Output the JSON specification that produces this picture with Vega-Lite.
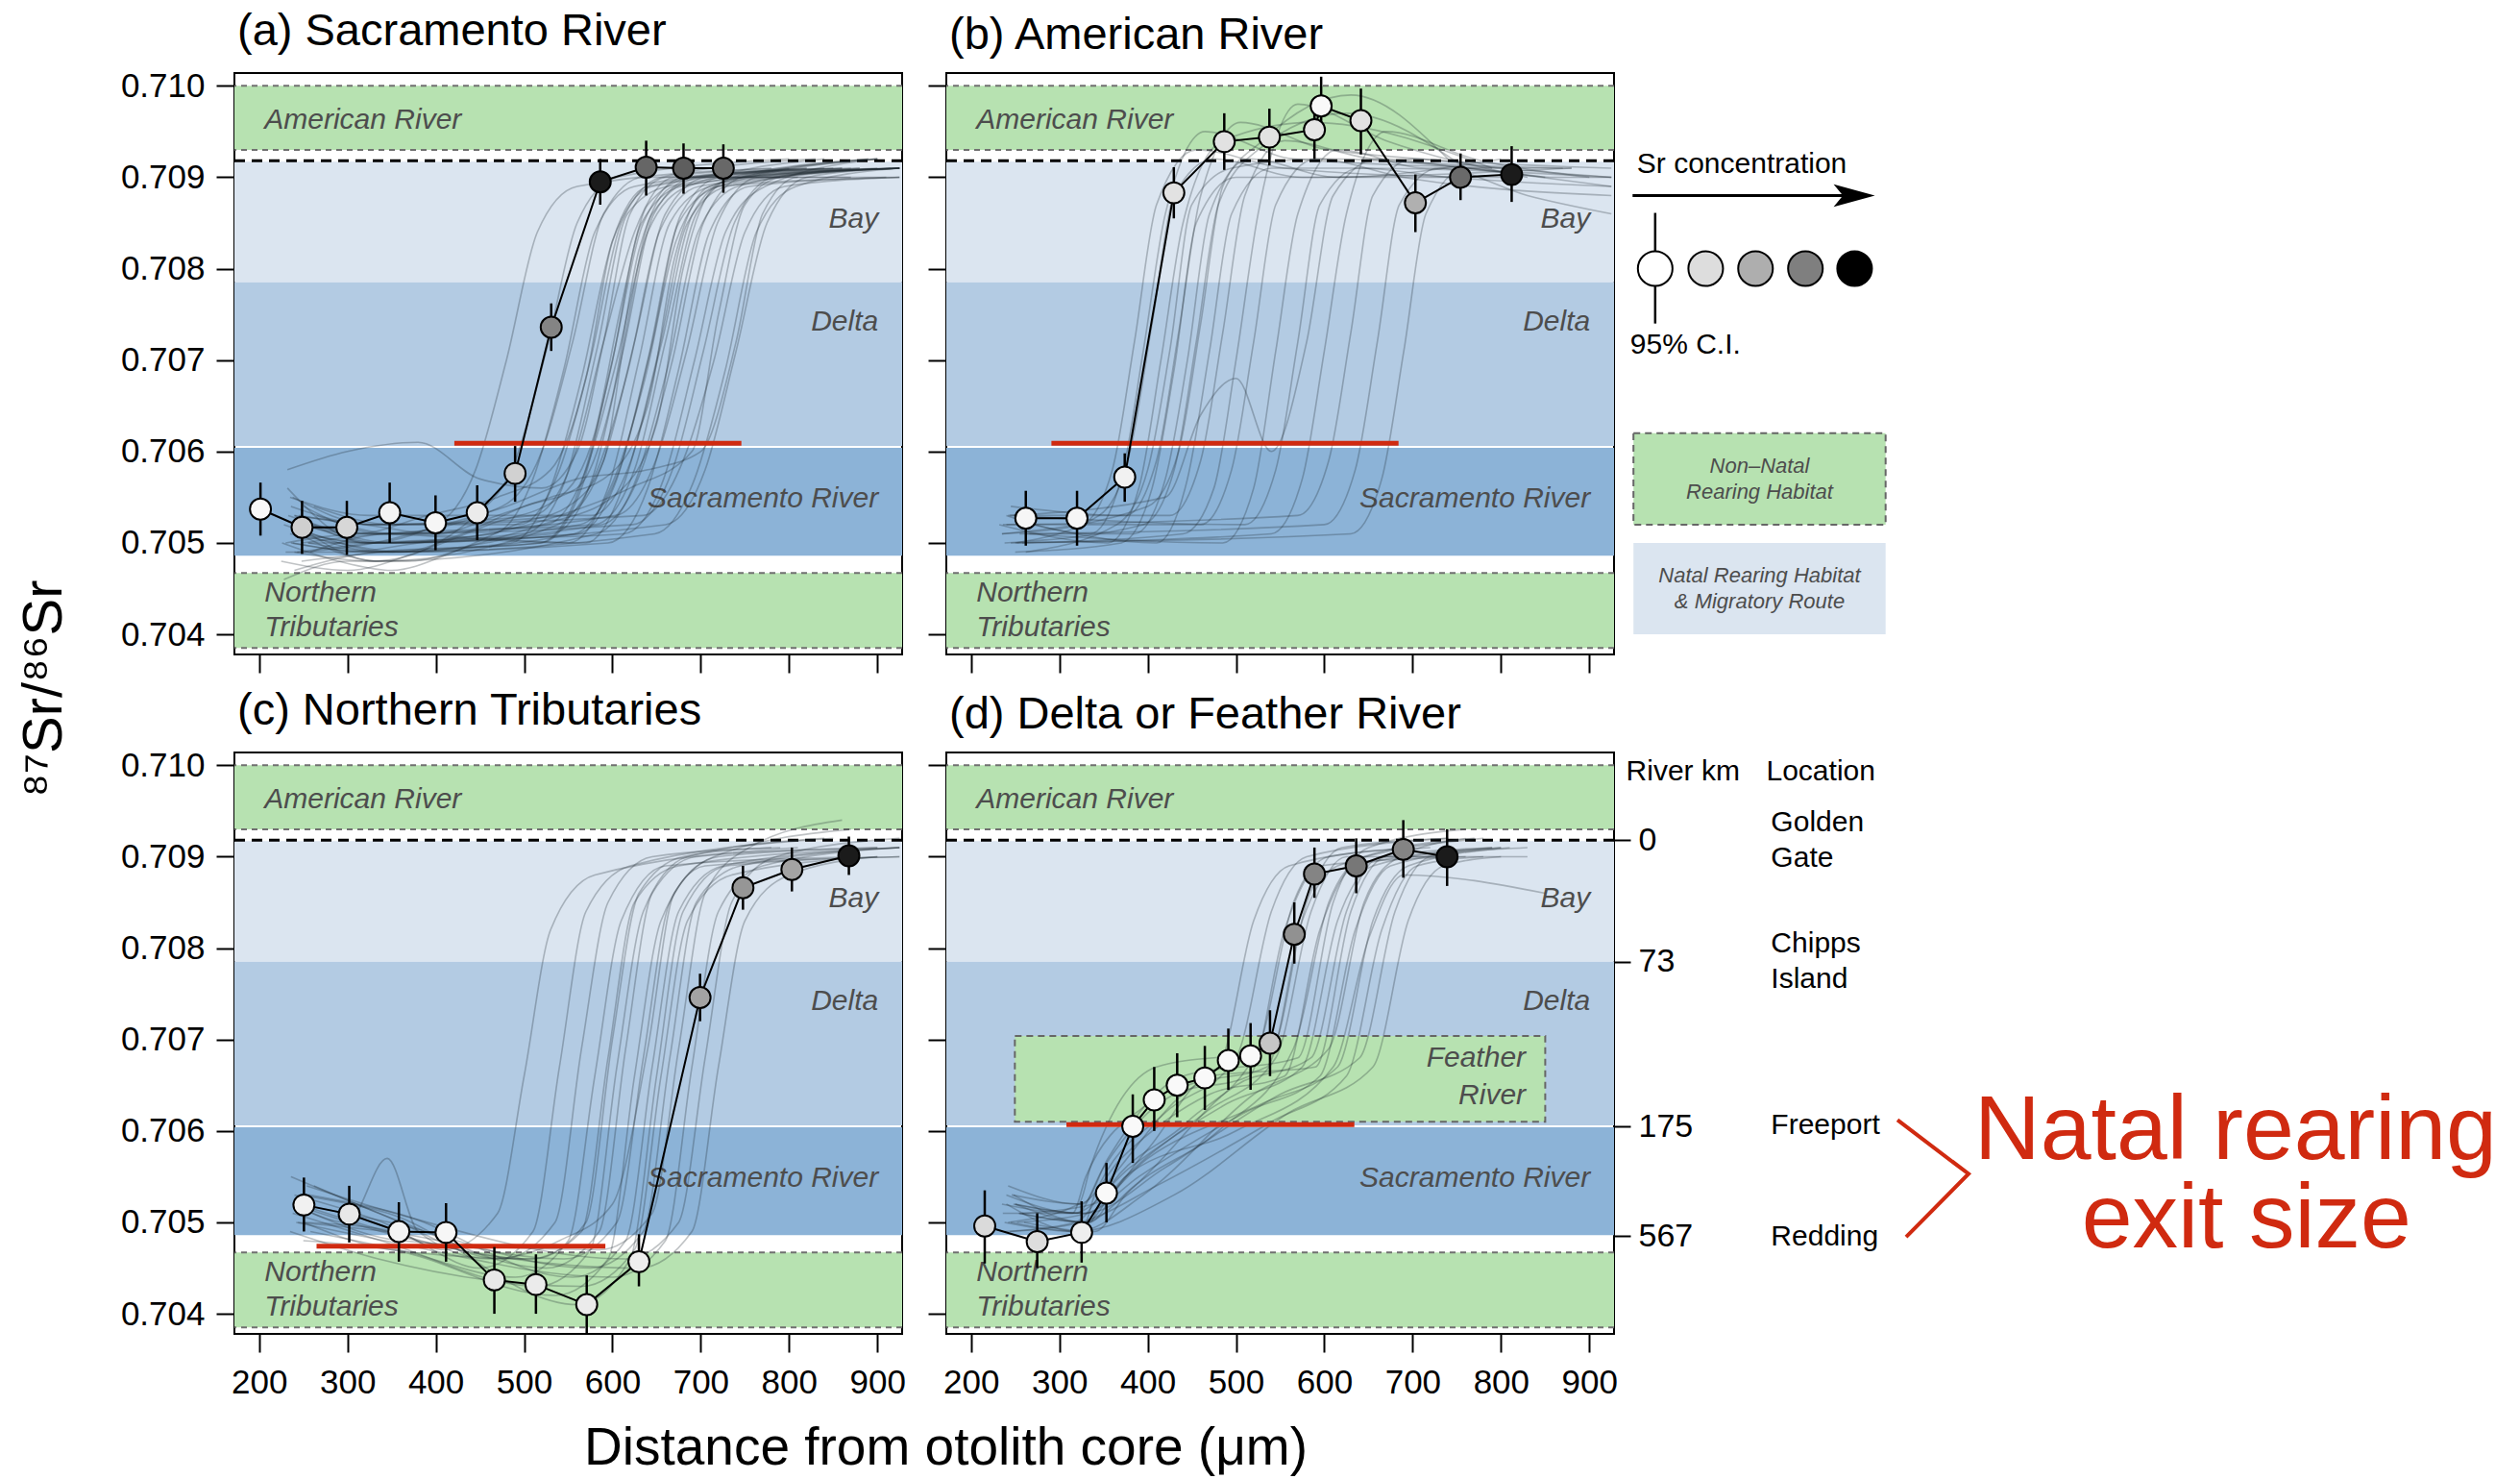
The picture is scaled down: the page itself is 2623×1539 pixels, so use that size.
{
"$schema": "https://vega.github.io/schema/vega-lite/v6.json",
"padding": {"left": 16, "top": 8, "right": 8, "bottom": 2},
"background": "white",
"config": {
  "font": "Liberation Sans",
  "view": {"stroke": "#000", "strokeWidth": 2},
  "axis": {"domain": false, "grid": false, "tickColor": "#000", "tickWidth": 2, "tickSize": 19, "labelFontSize": 35, "labelColor": "#000", "titleColor": "#000", "titleFontWeight": "normal", "labelFont": "Liberation Sans", "titleFont": "Liberation Sans"},
  "title": {"anchor": "start", "frame": "group", "fontSize": 47, "fontWeight": "normal", "offset": 15, "baseline": "alphabetic", "color": "#000", "font": "Liberation Sans", "dx": 3}
},
"datasets": {
  "bands": [
    {"zone": "green", "y": 0.7093, "y2": 0.71},
    {"zone": "bay", "y": 0.70785, "y2": 0.70917},
    {"zone": "delta", "y": 0.70606, "y2": 0.70785},
    {"zone": "sac", "y": 0.70486, "y2": 0.70604},
    {"zone": "green", "y": 0.70385, "y2": 0.70467}
  ],
  "dash": [{"y": 0.71}, {"y": 0.7093}, {"y": 0.70467}, {"y": 0.70385}],
  "bay0": [{"y": 0.70918}],
  "labL": [
    {"txt": "American River", "x": 206, "y": 0.70962},
    {"txt": "Northern", "x": 206, "y": 0.70445},
    {"txt": "Tributaries", "x": 206, "y": 0.70407}
  ],
  "labR": [
    {"txt": "Bay", "x": 901, "y": 0.70854},
    {"txt": "Delta", "x": 901, "y": 0.70742},
    {"txt": "Sacramento River", "x": 901, "y": 0.70548}
  ],
  "red": [
    {"p": "a", "x": 421, "x2": 746, "y": 0.70609},
    {"p": "b", "x": 291, "x2": 684, "y": 0.70609},
    {"p": "c", "x": 265, "x2": 592, "y": 0.70474},
    {"p": "d", "x": 308, "x2": 634, "y": 0.70607}
  ],
  "means": [
    {"p":"a","x":201.5,"y":0.70537,"lo":0.70508,"hi":0.70566,"c":0.02},
    {"p":"a","x":248.6,"y":0.70517,"lo":0.70488,"hi":0.70546,"c":0.17},
    {"p":"a","x":299.3,"y":0.70517,"lo":0.70487,"hi":0.70546,"c":0.14},
    {"p":"a","x":347.8,"y":0.70533,"lo":0.705,"hi":0.70566,"c":0.04},
    {"p":"a","x":399.7,"y":0.70522,"lo":0.70492,"hi":0.70552,"c":0.03},
    {"p":"a","x":446.9,"y":0.70533,"lo":0.70503,"hi":0.70563,"c":0.07},
    {"p":"a","x":489.8,"y":0.70576,"lo":0.70545,"hi":0.70606,"c":0.16},
    {"p":"a","x":530.7,"y":0.70736,"lo":0.7071,"hi":0.70762,"c":0.45},
    {"p":"a","x":586.2,"y":0.70895,"lo":0.7087,"hi":0.7092,"c":0.9},
    {"p":"a","x":638.2,"y":0.70911,"lo":0.7088,"hi":0.7094,"c":0.57},
    {"p":"a","x":680.5,"y":0.7091,"lo":0.70882,"hi":0.70937,"c":0.6},
    {"p":"a","x":725.6,"y":0.7091,"lo":0.70883,"hi":0.70936,"c":0.56},
    {"p":"b","x":262,"y":0.70527,"lo":0.70497,"hi":0.70557,"c":0.03},
    {"p":"b","x":320,"y":0.70527,"lo":0.70497,"hi":0.70557,"c":0.03},
    {"p":"b","x":374,"y":0.70572,"lo":0.70545,"hi":0.70598,"c":0.05},
    {"p":"b","x":429.6,"y":0.70883,"lo":0.70855,"hi":0.70911,"c":0.1},
    {"p":"b","x":486.7,"y":0.70939,"lo":0.70908,"hi":0.7097,"c":0.1},
    {"p":"b","x":537.8,"y":0.70944,"lo":0.70913,"hi":0.70975,"c":0.1},
    {"p":"b","x":588.8,"y":0.70952,"lo":0.7092,"hi":0.70985,"c":0.09},
    {"p":"b","x":596.4,"y":0.70978,"lo":0.70945,"hi":0.7101,"c":0.02},
    {"p":"b","x":641.4,"y":0.70962,"lo":0.70925,"hi":0.70997,"c":0.1},
    {"p":"b","x":703.1,"y":0.70872,"lo":0.7084,"hi":0.70903,"c":0.28},
    {"p":"b","x":754.2,"y":0.709,"lo":0.70875,"hi":0.70926,"c":0.55},
    {"p":"b","x":812.1,"y":0.70903,"lo":0.70873,"hi":0.70934,"c":0.9},
    {"p":"c","x":250.7,"y":0.70519,"lo":0.7049,"hi":0.70549,"c":0.05},
    {"p":"c","x":302,"y":0.70509,"lo":0.70478,"hi":0.7054,"c":0.08},
    {"p":"c","x":358.2,"y":0.7049,"lo":0.70457,"hi":0.70522,"c":0.04},
    {"p":"c","x":411.6,"y":0.70489,"lo":0.70457,"hi":0.70521,"c":0.03},
    {"p":"c","x":466.3,"y":0.70437,"lo":0.704,"hi":0.70473,"c":0.08},
    {"p":"c","x":513.4,"y":0.70432,"lo":0.704,"hi":0.70465,"c":0.07},
    {"p":"c","x":570.9,"y":0.7041,"lo":0.70378,"hi":0.70442,"c":0.07},
    {"p":"c","x":630,"y":0.70457,"lo":0.7043,"hi":0.70487,"c":0.06},
    {"p":"c","x":699.2,"y":0.70746,"lo":0.7072,"hi":0.70772,"c":0.33},
    {"p":"c","x":747.8,"y":0.70866,"lo":0.70842,"hi":0.7089,"c":0.38},
    {"p":"c","x":803.2,"y":0.70886,"lo":0.70862,"hi":0.7091,"c":0.33},
    {"p":"c","x":867.7,"y":0.70901,"lo":0.7088,"hi":0.70922,"c":0.9},
    {"p":"d","x":215.5,"y":0.70496,"lo":0.70455,"hi":0.70535,"c":0.13},
    {"p":"d","x":274.9,"y":0.70479,"lo":0.7045,"hi":0.7051,"c":0.12},
    {"p":"d","x":325.2,"y":0.70489,"lo":0.70456,"hi":0.70523,"c":0.06},
    {"p":"d","x":353.3,"y":0.70532,"lo":0.705,"hi":0.70565,"c":0.02},
    {"p":"d","x":383.1,"y":0.70605,"lo":0.70565,"hi":0.7064,"c":0.02},
    {"p":"d","x":407.4,"y":0.70634,"lo":0.706,"hi":0.7067,"c":0.02},
    {"p":"d","x":433.4,"y":0.7065,"lo":0.70615,"hi":0.70685,"c":0.02},
    {"p":"d","x":464.7,"y":0.70658,"lo":0.70623,"hi":0.70693,"c":0.02},
    {"p":"d","x":491.3,"y":0.70677,"lo":0.70645,"hi":0.70712,"c":0.02},
    {"p":"d","x":516.5,"y":0.70682,"lo":0.70645,"hi":0.70718,"c":0.02},
    {"p":"d","x":538.5,"y":0.70696,"lo":0.7066,"hi":0.70732,"c":0.2},
    {"p":"d","x":566,"y":0.70815,"lo":0.70783,"hi":0.7085,"c":0.4},
    {"p":"d","x":588.8,"y":0.70881,"lo":0.70855,"hi":0.7091,"c":0.45},
    {"p":"d","x":636.1,"y":0.7089,"lo":0.7086,"hi":0.7092,"c":0.5},
    {"p":"d","x":689.4,"y":0.70908,"lo":0.70877,"hi":0.7094,"c":0.45},
    {"p":"d","x":739,"y":0.709,"lo":0.70868,"hi":0.7093,"c":0.9}
  ],
  "traces": [
    {"p":"a","t":1,"x":232,"y":0.7056},{"p":"a","t":1,"x":320,"y":0.705},{"p":"a","t":1,"x":400,"y":0.7052},{"p":"a","t":1,"x":445,"y":0.7058},{"p":"a","t":1,"x":480,"y":0.707},{"p":"a","t":1,"x":515,"y":0.7084},{"p":"a","t":1,"x":560,"y":0.7089},{"p":"a","t":1,"x":780,"y":0.7091},
    {"p":"a","t":2,"x":240,"y":0.7049},{"p":"a","t":2,"x":330,"y":0.7048},{"p":"a","t":2,"x":445,"y":0.7053},{"p":"a","t":2,"x":490,"y":0.7059},{"p":"a","t":2,"x":525,"y":0.7071},{"p":"a","t":2,"x":560,"y":0.7085},{"p":"a","t":2,"x":605,"y":0.709},{"p":"a","t":2,"x":800,"y":0.7092},
    {"p":"a","t":3,"x":228,"y":0.7052},{"p":"a","t":3,"x":318,"y":0.705},{"p":"a","t":3,"x":465,"y":0.7051},{"p":"a","t":3,"x":510,"y":0.7057},{"p":"a","t":3,"x":545,"y":0.7069},{"p":"a","t":3,"x":580,"y":0.7084},{"p":"a","t":3,"x":625,"y":0.7089},{"p":"a","t":3,"x":820,"y":0.7091},
    {"p":"a","t":4,"x":250,"y":0.7054},{"p":"a","t":4,"x":340,"y":0.7051},{"p":"a","t":4,"x":475,"y":0.7054},{"p":"a","t":4,"x":520,"y":0.706},{"p":"a","t":4,"x":555,"y":0.7072},{"p":"a","t":4,"x":590,"y":0.7086},{"p":"a","t":4,"x":635,"y":0.709},{"p":"a","t":4,"x":790,"y":0.709},
    {"p":"a","t":5,"x":236,"y":0.705},{"p":"a","t":5,"x":326,"y":0.7049},{"p":"a","t":5,"x":485,"y":0.705},{"p":"a","t":5,"x":530,"y":0.7056},{"p":"a","t":5,"x":565,"y":0.7068},{"p":"a","t":5,"x":600,"y":0.7083},{"p":"a","t":5,"x":645,"y":0.7089},{"p":"a","t":5,"x":850,"y":0.7091},
    {"p":"a","t":6,"x":245,"y":0.7053},{"p":"a","t":6,"x":335,"y":0.7052},{"p":"a","t":6,"x":495,"y":0.7052},{"p":"a","t":6,"x":540,"y":0.7058},{"p":"a","t":6,"x":575,"y":0.707},{"p":"a","t":6,"x":610,"y":0.7085},{"p":"a","t":6,"x":655,"y":0.709},{"p":"a","t":6,"x":830,"y":0.7092},
    {"p":"a","t":7,"x":260,"y":0.7051},{"p":"a","t":7,"x":350,"y":0.7049},{"p":"a","t":7,"x":502,"y":0.7051},{"p":"a","t":7,"x":547,"y":0.7057},{"p":"a","t":7,"x":582,"y":0.7071},{"p":"a","t":7,"x":617,"y":0.7086},{"p":"a","t":7,"x":662,"y":0.7089},{"p":"a","t":7,"x":870,"y":0.7091},
    {"p":"a","t":8,"x":238,"y":0.7055},{"p":"a","t":8,"x":328,"y":0.7052},{"p":"a","t":8,"x":510,"y":0.7053},{"p":"a","t":8,"x":555,"y":0.7059},{"p":"a","t":8,"x":590,"y":0.7072},{"p":"a","t":8,"x":625,"y":0.7084},{"p":"a","t":8,"x":670,"y":0.709},{"p":"a","t":8,"x":810,"y":0.709},
    {"p":"a","t":9,"x":248,"y":0.7048},{"p":"a","t":9,"x":338,"y":0.7049},{"p":"a","t":9,"x":518,"y":0.705},{"p":"a","t":9,"x":563,"y":0.7056},{"p":"a","t":9,"x":598,"y":0.7069},{"p":"a","t":9,"x":633,"y":0.7085},{"p":"a","t":9,"x":678,"y":0.7089},{"p":"a","t":9,"x":900,"y":0.7091},
    {"p":"a","t":10,"x":233,"y":0.7053},{"p":"a","t":10,"x":323,"y":0.7051},{"p":"a","t":10,"x":525,"y":0.7052},{"p":"a","t":10,"x":570,"y":0.7058},{"p":"a","t":10,"x":605,"y":0.707},{"p":"a","t":10,"x":640,"y":0.7084},{"p":"a","t":10,"x":685,"y":0.7089},{"p":"a","t":10,"x":840,"y":0.7092},
    {"p":"a","t":11,"x":255,"y":0.705},{"p":"a","t":11,"x":345,"y":0.705},{"p":"a","t":11,"x":532,"y":0.7051},{"p":"a","t":11,"x":577,"y":0.7057},{"p":"a","t":11,"x":612,"y":0.7071},{"p":"a","t":11,"x":647,"y":0.7086},{"p":"a","t":11,"x":692,"y":0.709},{"p":"a","t":11,"x":880,"y":0.7091},
    {"p":"a","t":12,"x":242,"y":0.7052},{"p":"a","t":12,"x":332,"y":0.7048},{"p":"a","t":12,"x":538,"y":0.7052},{"p":"a","t":12,"x":583,"y":0.7058},{"p":"a","t":12,"x":618,"y":0.7069},{"p":"a","t":12,"x":653,"y":0.7084},{"p":"a","t":12,"x":698,"y":0.7089},{"p":"a","t":12,"x":925,"y":0.7091},
    {"p":"a","t":13,"x":262,"y":0.7054},{"p":"a","t":13,"x":352,"y":0.7052},{"p":"a","t":13,"x":545,"y":0.7053},{"p":"a","t":13,"x":590,"y":0.7059},{"p":"a","t":13,"x":625,"y":0.7072},{"p":"a","t":13,"x":660,"y":0.7086},{"p":"a","t":13,"x":705,"y":0.709},{"p":"a","t":13,"x":860,"y":0.7091},
    {"p":"a","t":14,"x":230,"y":0.705},{"p":"a","t":14,"x":320,"y":0.7051},{"p":"a","t":14,"x":550,"y":0.705},{"p":"a","t":14,"x":595,"y":0.7056},{"p":"a","t":14,"x":630,"y":0.707},{"p":"a","t":14,"x":665,"y":0.7085},{"p":"a","t":14,"x":710,"y":0.7089},{"p":"a","t":14,"x":890,"y":0.7092},
    {"p":"a","t":15,"x":250,"y":0.7051},{"p":"a","t":15,"x":340,"y":0.7049},{"p":"a","t":15,"x":557,"y":0.7051},{"p":"a","t":15,"x":602,"y":0.7057},{"p":"a","t":15,"x":637,"y":0.7068},{"p":"a","t":15,"x":672,"y":0.7083},{"p":"a","t":15,"x":717,"y":0.7089},{"p":"a","t":15,"x":915,"y":0.7091},
    {"p":"a","t":16,"x":240,"y":0.7053},{"p":"a","t":16,"x":330,"y":0.705},{"p":"a","t":16,"x":563,"y":0.7052},{"p":"a","t":16,"x":608,"y":0.7058},{"p":"a","t":16,"x":643,"y":0.7071},{"p":"a","t":16,"x":678,"y":0.7086},{"p":"a","t":16,"x":723,"y":0.709},{"p":"a","t":16,"x":870,"y":0.709},
    {"p":"a","t":17,"x":258,"y":0.7049},{"p":"a","t":17,"x":348,"y":0.7051},{"p":"a","t":17,"x":570,"y":0.705},{"p":"a","t":17,"x":615,"y":0.7057},{"p":"a","t":17,"x":650,"y":0.707},{"p":"a","t":17,"x":685,"y":0.7085},{"p":"a","t":17,"x":730,"y":0.7089},{"p":"a","t":17,"x":925,"y":0.7091},
    {"p":"a","t":18,"x":235,"y":0.7055},{"p":"a","t":18,"x":325,"y":0.7053},{"p":"a","t":18,"x":576,"y":0.7053},{"p":"a","t":18,"x":621,"y":0.7059},{"p":"a","t":18,"x":656,"y":0.7072},{"p":"a","t":18,"x":691,"y":0.7086},{"p":"a","t":18,"x":736,"y":0.709},{"p":"a","t":18,"x":900,"y":0.7092},
    {"p":"a","t":19,"x":245,"y":0.7051},{"p":"a","t":19,"x":335,"y":0.7048},{"p":"a","t":19,"x":582,"y":0.7051},{"p":"a","t":19,"x":627,"y":0.7057},{"p":"a","t":19,"x":662,"y":0.7069},{"p":"a","t":19,"x":697,"y":0.7084},{"p":"a","t":19,"x":742,"y":0.7089},{"p":"a","t":19,"x":880,"y":0.7091},
    {"p":"a","t":20,"x":252,"y":0.7052},{"p":"a","t":20,"x":342,"y":0.705},{"p":"a","t":20,"x":588,"y":0.7052},{"p":"a","t":20,"x":633,"y":0.7058},{"p":"a","t":20,"x":668,"y":0.707},{"p":"a","t":20,"x":703,"y":0.7085},{"p":"a","t":20,"x":748,"y":0.709},{"p":"a","t":20,"x":925,"y":0.7091},
    {"p":"a","t":21,"x":238,"y":0.705},{"p":"a","t":21,"x":328,"y":0.7049},{"p":"a","t":21,"x":595,"y":0.705},{"p":"a","t":21,"x":640,"y":0.7056},{"p":"a","t":21,"x":675,"y":0.7069},{"p":"a","t":21,"x":710,"y":0.7084},{"p":"a","t":21,"x":755,"y":0.7089},{"p":"a","t":21,"x":910,"y":0.709},
    {"p":"a","t":22,"x":265,"y":0.7053},{"p":"a","t":22,"x":355,"y":0.7051},{"p":"a","t":22,"x":604,"y":0.7053},{"p":"a","t":22,"x":649,"y":0.7059},{"p":"a","t":22,"x":684,"y":0.7071},{"p":"a","t":22,"x":719,"y":0.7085},{"p":"a","t":22,"x":764,"y":0.709},{"p":"a","t":22,"x":925,"y":0.7091},
    {"p":"a","t":23,"x":243,"y":0.7049},{"p":"a","t":23,"x":333,"y":0.705},{"p":"a","t":23,"x":613,"y":0.7051},{"p":"a","t":23,"x":658,"y":0.7057},{"p":"a","t":23,"x":693,"y":0.707},{"p":"a","t":23,"x":728,"y":0.7084},{"p":"a","t":23,"x":773,"y":0.7089},{"p":"a","t":23,"x":900,"y":0.7092},
    {"p":"a","t":24,"x":250,"y":0.7052},{"p":"a","t":24,"x":340,"y":0.7051},{"p":"a","t":24,"x":623,"y":0.7052},{"p":"a","t":24,"x":668,"y":0.7058},{"p":"a","t":24,"x":703,"y":0.7071},{"p":"a","t":24,"x":738,"y":0.7085},{"p":"a","t":24,"x":783,"y":0.709},{"p":"a","t":24,"x":925,"y":0.7091},
    {"p":"a","t":25,"x":236,"y":0.7054},{"p":"a","t":25,"x":326,"y":0.7052},{"p":"a","t":25,"x":635,"y":0.7053},{"p":"a","t":25,"x":680,"y":0.7059},{"p":"a","t":25,"x":715,"y":0.707},{"p":"a","t":25,"x":750,"y":0.7084},{"p":"a","t":25,"x":795,"y":0.7089},{"p":"a","t":25,"x":925,"y":0.709},
    {"p":"a","t":26,"x":256,"y":0.705},{"p":"a","t":26,"x":346,"y":0.7049},{"p":"a","t":26,"x":648,"y":0.7051},{"p":"a","t":26,"x":693,"y":0.7057},{"p":"a","t":26,"x":728,"y":0.7069},{"p":"a","t":26,"x":763,"y":0.7084},{"p":"a","t":26,"x":808,"y":0.7089},{"p":"a","t":26,"x":925,"y":0.7091},
    {"p":"a","t":27,"x":246,"y":0.7051},{"p":"a","t":27,"x":336,"y":0.705},{"p":"a","t":27,"x":660,"y":0.7052},{"p":"a","t":27,"x":705,"y":0.7058},{"p":"a","t":27,"x":740,"y":0.7071},{"p":"a","t":27,"x":775,"y":0.7085},{"p":"a","t":27,"x":820,"y":0.709},{"p":"a","t":27,"x":925,"y":0.7091},
    {"p":"a","t":28,"x":240,"y":0.7047},{"p":"a","t":28,"x":330,"y":0.7049},{"p":"a","t":28,"x":520,"y":0.705},{"p":"a","t":28,"x":565,"y":0.7056},{"p":"a","t":28,"x":600,"y":0.707},{"p":"a","t":28,"x":635,"y":0.7085},{"p":"a","t":28,"x":680,"y":0.709},{"p":"a","t":28,"x":840,"y":0.7091},
    {"p":"a","t":29,"x":262,"y":0.7052},{"p":"a","t":29,"x":352,"y":0.705},{"p":"a","t":29,"x":560,"y":0.7051},{"p":"a","t":29,"x":605,"y":0.7057},{"p":"a","t":29,"x":640,"y":0.707},{"p":"a","t":29,"x":675,"y":0.7085},{"p":"a","t":29,"x":720,"y":0.7089},{"p":"a","t":29,"x":900,"y":0.7092},
    {"p":"a","t":30,"x":248,"y":0.705},{"p":"a","t":30,"x":338,"y":0.7051},{"p":"a","t":30,"x":580,"y":0.7052},{"p":"a","t":30,"x":625,"y":0.7058},{"p":"a","t":30,"x":660,"y":0.7072},{"p":"a","t":30,"x":695,"y":0.7086},{"p":"a","t":30,"x":740,"y":0.709},{"p":"a","t":30,"x":925,"y":0.7091},
    {"p":"a","t":31,"x":232,"y":0.7058},{"p":"a","t":31,"x":300,"y":0.706},{"p":"a","t":31,"x":380,"y":0.7061},{"p":"a","t":31,"x":450,"y":0.7057},{"p":"a","t":31,"x":520,"y":0.7056},{"p":"a","t":31,"x":560,"y":0.706},{"p":"a","t":31,"x":590,"y":0.7072},{"p":"a","t":31,"x":620,"y":0.7086},{"p":"a","t":31,"x":660,"y":0.709},{"p":"a","t":31,"x":800,"y":0.7091},
    {"p":"a","t":32,"x":225,"y":0.7048},{"p":"a","t":32,"x":300,"y":0.7047},{"p":"a","t":32,"x":380,"y":0.7049},{"p":"a","t":32,"x":460,"y":0.7052},{"p":"a","t":32,"x":540,"y":0.7055},{"p":"a","t":32,"x":580,"y":0.7062},{"p":"a","t":32,"x":610,"y":0.7076},{"p":"a","t":32,"x":640,"y":0.7087},{"p":"a","t":32,"x":690,"y":0.709},{"p":"a","t":32,"x":860,"y":0.7091},
    {"p":"a","t":33,"x":235,"y":0.7051},{"p":"a","t":33,"x":290,"y":0.705},{"p":"a","t":33,"x":360,"y":0.7049},{"p":"a","t":33,"x":430,"y":0.7051},{"p":"a","t":33,"x":500,"y":0.7054},{"p":"a","t":33,"x":560,"y":0.7056},{"p":"a","t":33,"x":600,"y":0.7066},{"p":"a","t":33,"x":630,"y":0.7082},{"p":"a","t":33,"x":670,"y":0.7089},{"p":"a","t":33,"x":925,"y":0.7091},
    {"p":"a","t":34,"x":228,"y":0.7046},{"p":"a","t":34,"x":300,"y":0.7048},{"p":"a","t":34,"x":370,"y":0.7048},{"p":"a","t":34,"x":450,"y":0.705},{"p":"a","t":34,"x":520,"y":0.7052},{"p":"a","t":34,"x":600,"y":0.7055},{"p":"a","t":34,"x":650,"y":0.7063},{"p":"a","t":34,"x":680,"y":0.708},{"p":"a","t":34,"x":720,"y":0.7089},{"p":"a","t":34,"x":925,"y":0.709},
    {"p":"a","t":35,"x":245,"y":0.7052},{"p":"a","t":35,"x":310,"y":0.7051},{"p":"a","t":35,"x":390,"y":0.7053},{"p":"a","t":35,"x":470,"y":0.7055},{"p":"a","t":35,"x":530,"y":0.7058},{"p":"a","t":35,"x":570,"y":0.7068},{"p":"a","t":35,"x":600,"y":0.7083},{"p":"a","t":35,"x":640,"y":0.7089},{"p":"a","t":35,"x":820,"y":0.7091},
    {"p":"a","t":36,"x":230,"y":0.7049},{"p":"a","t":36,"x":300,"y":0.7049},{"p":"a","t":36,"x":380,"y":0.705},{"p":"a","t":36,"x":460,"y":0.7051},{"p":"a","t":36,"x":540,"y":0.7053},{"p":"a","t":36,"x":620,"y":0.7056},{"p":"a","t":36,"x":690,"y":0.706},{"p":"a","t":36,"x":720,"y":0.7075},{"p":"a","t":36,"x":750,"y":0.7087},{"p":"a","t":36,"x":790,"y":0.709},{"p":"a","t":36,"x":925,"y":0.7091},
    {"p":"a","t":37,"x":240,"y":0.7053},{"p":"a","t":37,"x":320,"y":0.7052},{"p":"a","t":37,"x":400,"y":0.7051},{"p":"a","t":37,"x":470,"y":0.7053},{"p":"a","t":37,"x":530,"y":0.7055},{"p":"a","t":37,"x":590,"y":0.7057},{"p":"a","t":37,"x":640,"y":0.7065},{"p":"a","t":37,"x":670,"y":0.7081},{"p":"a","t":37,"x":710,"y":0.7089},{"p":"a","t":37,"x":900,"y":0.7092},
    {"p":"a","t":38,"x":226,"y":0.705},{"p":"a","t":38,"x":290,"y":0.7048},{"p":"a","t":38,"x":350,"y":0.7047},{"p":"a","t":38,"x":420,"y":0.7049},{"p":"a","t":38,"x":490,"y":0.7052},{"p":"a","t":38,"x":550,"y":0.7054},{"p":"a","t":38,"x":590,"y":0.7059},{"p":"a","t":38,"x":615,"y":0.7073},{"p":"a","t":38,"x":645,"y":0.7086},{"p":"a","t":38,"x":700,"y":0.709},{"p":"a","t":38,"x":925,"y":0.7091},
    {"p":"a","t":39,"x":250,"y":0.7049},{"p":"a","t":39,"x":330,"y":0.705},{"p":"a","t":39,"x":410,"y":0.7052},{"p":"a","t":39,"x":480,"y":0.7054},{"p":"a","t":39,"x":560,"y":0.7057},{"p":"a","t":39,"x":640,"y":0.7058},{"p":"a","t":39,"x":700,"y":0.706},{"p":"a","t":39,"x":740,"y":0.7072},{"p":"a","t":39,"x":770,"y":0.7086},{"p":"a","t":39,"x":810,"y":0.709},{"p":"a","t":39,"x":925,"y":0.709},

    {"p":"b","t":1,"x":235,"y":0.7051},{"p":"b","t":1,"x":325,"y":0.7052},{"p":"b","t":1,"x":360,"y":0.7058},{"p":"b","t":1,"x":385,"y":0.7072},{"p":"b","t":1,"x":410,"y":0.7087},{"p":"b","t":1,"x":455,"y":0.7093},{"p":"b","t":1,"x":555,"y":0.7091},{"p":"b","t":1,"x":760,"y":0.709},
    {"p":"b","t":2,"x":240,"y":0.7053},{"p":"b","t":2,"x":335,"y":0.7051},{"p":"b","t":2,"x":370,"y":0.7057},{"p":"b","t":2,"x":395,"y":0.7071},{"p":"b","t":2,"x":420,"y":0.7086},{"p":"b","t":2,"x":465,"y":0.7095},{"p":"b","t":2,"x":565,"y":0.7092},{"p":"b","t":2,"x":820,"y":0.7091},
    {"p":"b","t":3,"x":250,"y":0.705},{"p":"b","t":3,"x":345,"y":0.7053},{"p":"b","t":3,"x":380,"y":0.706},{"p":"b","t":3,"x":405,"y":0.7074},{"p":"b","t":3,"x":430,"y":0.7088},{"p":"b","t":3,"x":475,"y":0.7092},{"p":"b","t":3,"x":575,"y":0.709},{"p":"b","t":3,"x":880,"y":0.7091},
    {"p":"b","t":4,"x":232,"y":0.7052},{"p":"b","t":4,"x":355,"y":0.705},{"p":"b","t":4,"x":390,"y":0.7056},{"p":"b","t":4,"x":415,"y":0.707},{"p":"b","t":4,"x":440,"y":0.7085},{"p":"b","t":4,"x":485,"y":0.7094},{"p":"b","t":4,"x":585,"y":0.7096},{"p":"b","t":4,"x":790,"y":0.7091},
    {"p":"b","t":5,"x":262,"y":0.7049},{"p":"b","t":5,"x":365,"y":0.7052},{"p":"b","t":5,"x":400,"y":0.7058},{"p":"b","t":5,"x":425,"y":0.7071},{"p":"b","t":5,"x":450,"y":0.7087},{"p":"b","t":5,"x":495,"y":0.7091},{"p":"b","t":5,"x":595,"y":0.7092},{"p":"b","t":5,"x":850,"y":0.709},
    {"p":"b","t":6,"x":245,"y":0.7054},{"p":"b","t":6,"x":375,"y":0.7053},{"p":"b","t":6,"x":410,"y":0.7059},{"p":"b","t":6,"x":435,"y":0.7073},{"p":"b","t":6,"x":460,"y":0.7088},{"p":"b","t":6,"x":505,"y":0.7096},{"p":"b","t":6,"x":605,"y":0.7093},{"p":"b","t":6,"x":925,"y":0.7091},
    {"p":"b","t":7,"x":255,"y":0.7051},{"p":"b","t":7,"x":385,"y":0.7051},{"p":"b","t":7,"x":420,"y":0.7057},{"p":"b","t":7,"x":445,"y":0.707},{"p":"b","t":7,"x":470,"y":0.7086},{"p":"b","t":7,"x":515,"y":0.7092},{"p":"b","t":7,"x":615,"y":0.709},{"p":"b","t":7,"x":800,"y":0.7092},
    {"p":"b","t":8,"x":238,"y":0.705},{"p":"b","t":8,"x":395,"y":0.7052},{"p":"b","t":8,"x":430,"y":0.7058},{"p":"b","t":8,"x":455,"y":0.7072},{"p":"b","t":8,"x":480,"y":0.7087},{"p":"b","t":8,"x":525,"y":0.7093},{"p":"b","t":8,"x":625,"y":0.7097},{"p":"b","t":8,"x":760,"y":0.7091},
    {"p":"b","t":9,"x":270,"y":0.7052},{"p":"b","t":9,"x":410,"y":0.705},{"p":"b","t":9,"x":445,"y":0.7057},{"p":"b","t":9,"x":470,"y":0.7071},{"p":"b","t":9,"x":495,"y":0.7086},{"p":"b","t":9,"x":540,"y":0.7091},{"p":"b","t":9,"x":640,"y":0.7091},{"p":"b","t":9,"x":925,"y":0.709},
    {"p":"b","t":10,"x":242,"y":0.7053},{"p":"b","t":10,"x":425,"y":0.7053},{"p":"b","t":10,"x":460,"y":0.7059},{"p":"b","t":10,"x":485,"y":0.7073},{"p":"b","t":10,"x":510,"y":0.7088},{"p":"b","t":10,"x":555,"y":0.7094},{"p":"b","t":10,"x":655,"y":0.7092},{"p":"b","t":10,"x":870,"y":0.7091},
    {"p":"b","t":11,"x":258,"y":0.705},{"p":"b","t":11,"x":440,"y":0.7051},{"p":"b","t":11,"x":475,"y":0.7056},{"p":"b","t":11,"x":500,"y":0.707},{"p":"b","t":11,"x":525,"y":0.7086},{"p":"b","t":11,"x":570,"y":0.7098},{"p":"b","t":11,"x":670,"y":0.7094},{"p":"b","t":11,"x":830,"y":0.709},
    {"p":"b","t":12,"x":236,"y":0.7052},{"p":"b","t":12,"x":460,"y":0.7052},{"p":"b","t":12,"x":495,"y":0.7058},{"p":"b","t":12,"x":520,"y":0.7072},{"p":"b","t":12,"x":545,"y":0.7087},{"p":"b","t":12,"x":590,"y":0.7092},{"p":"b","t":12,"x":690,"y":0.709},{"p":"b","t":12,"x":925,"y":0.7088},
    {"p":"b","t":13,"x":266,"y":0.7051},{"p":"b","t":13,"x":485,"y":0.705},{"p":"b","t":13,"x":520,"y":0.7056},{"p":"b","t":13,"x":545,"y":0.7071},{"p":"b","t":13,"x":570,"y":0.7086},{"p":"b","t":13,"x":615,"y":0.7093},{"p":"b","t":13,"x":715,"y":0.7091},{"p":"b","t":13,"x":880,"y":0.7091},
    {"p":"b","t":14,"x":248,"y":0.7053},{"p":"b","t":14,"x":510,"y":0.7052},{"p":"b","t":14,"x":545,"y":0.7058},{"p":"b","t":14,"x":570,"y":0.7072},{"p":"b","t":14,"x":595,"y":0.7087},{"p":"b","t":14,"x":640,"y":0.7091},{"p":"b","t":14,"x":740,"y":0.709},{"p":"b","t":14,"x":925,"y":0.7089},
    {"p":"b","t":15,"x":252,"y":0.705},{"p":"b","t":15,"x":540,"y":0.7051},{"p":"b","t":15,"x":575,"y":0.7057},{"p":"b","t":15,"x":600,"y":0.7071},{"p":"b","t":15,"x":625,"y":0.7086},{"p":"b","t":15,"x":670,"y":0.7095},{"p":"b","t":15,"x":770,"y":0.7092},{"p":"b","t":15,"x":900,"y":0.709},
    {"p":"b","t":16,"x":240,"y":0.7052},{"p":"b","t":16,"x":570,"y":0.7053},{"p":"b","t":16,"x":605,"y":0.7059},{"p":"b","t":16,"x":630,"y":0.7073},{"p":"b","t":16,"x":655,"y":0.7088},{"p":"b","t":16,"x":700,"y":0.7092},{"p":"b","t":16,"x":800,"y":0.7091},{"p":"b","t":16,"x":925,"y":0.709},
    {"p":"b","t":17,"x":262,"y":0.7051},{"p":"b","t":17,"x":600,"y":0.7052},{"p":"b","t":17,"x":635,"y":0.7058},{"p":"b","t":17,"x":660,"y":0.7072},{"p":"b","t":17,"x":685,"y":0.7087},{"p":"b","t":17,"x":730,"y":0.7091},{"p":"b","t":17,"x":830,"y":0.7088},{"p":"b","t":17,"x":925,"y":0.7086},
    {"p":"b","t":18,"x":245,"y":0.705},{"p":"b","t":18,"x":630,"y":0.7051},{"p":"b","t":18,"x":665,"y":0.7057},{"p":"b","t":18,"x":690,"y":0.7071},{"p":"b","t":18,"x":715,"y":0.7086},{"p":"b","t":18,"x":760,"y":0.7091},{"p":"b","t":18,"x":860,"y":0.709},{"p":"b","t":18,"x":925,"y":0.709},
    {"p":"b","t":19,"x":250,"y":0.7049},{"p":"b","t":19,"x":370,"y":0.705},{"p":"b","t":19,"x":405,"y":0.7056},{"p":"b","t":19,"x":430,"y":0.7069},{"p":"b","t":19,"x":455,"y":0.7085},{"p":"b","t":19,"x":500,"y":0.709},{"p":"b","t":19,"x":600,"y":0.709},{"p":"b","t":19,"x":820,"y":0.709},
    {"p":"b","t":20,"x":235,"y":0.7051},{"p":"b","t":20,"x":400,"y":0.7054},{"p":"b","t":20,"x":435,"y":0.706},{"p":"b","t":20,"x":460,"y":0.7074},{"p":"b","t":20,"x":485,"y":0.7089},{"p":"b","t":20,"x":530,"y":0.7094},{"p":"b","t":20,"x":630,"y":0.7099},{"p":"b","t":20,"x":740,"y":0.7092},
    {"p":"b","t":21,"x":244,"y":0.7053},{"p":"b","t":21,"x":420,"y":0.7055},{"p":"b","t":21,"x":460,"y":0.7064},{"p":"b","t":21,"x":500,"y":0.7068},{"p":"b","t":21,"x":540,"y":0.706},{"p":"b","t":21,"x":580,"y":0.7072},{"p":"b","t":21,"x":610,"y":0.7088},{"p":"b","t":21,"x":660,"y":0.7092},{"p":"b","t":21,"x":760,"y":0.7091},{"p":"b","t":21,"x":925,"y":0.7089},

    {"p":"c","t":1,"x":240,"y":0.7053},{"p":"c","t":1,"x":340,"y":0.705},{"p":"c","t":1,"x":410,"y":0.7047},{"p":"c","t":1,"x":470,"y":0.7051},{"p":"c","t":1,"x":500,"y":0.7066},{"p":"c","t":1,"x":530,"y":0.7082},{"p":"c","t":1,"x":580,"y":0.7088},{"p":"c","t":1,"x":810,"y":0.7091},
    {"p":"c","t":2,"x":252,"y":0.705},{"p":"c","t":2,"x":352,"y":0.7049},{"p":"c","t":2,"x":450,"y":0.7045},{"p":"c","t":2,"x":510,"y":0.7049},{"p":"c","t":2,"x":540,"y":0.7067},{"p":"c","t":2,"x":570,"y":0.7084},{"p":"c","t":2,"x":620,"y":0.7089},{"p":"c","t":2,"x":850,"y":0.7092},
    {"p":"c","t":3,"x":236,"y":0.7055},{"p":"c","t":3,"x":336,"y":0.7051},{"p":"c","t":3,"x":475,"y":0.7046},{"p":"c","t":3,"x":535,"y":0.705},{"p":"c","t":3,"x":565,"y":0.7069},{"p":"c","t":3,"x":595,"y":0.7085},{"p":"c","t":3,"x":645,"y":0.709},{"p":"c","t":3,"x":790,"y":0.7091},
    {"p":"c","t":4,"x":258,"y":0.7049},{"p":"c","t":4,"x":358,"y":0.7047},{"p":"c","t":4,"x":490,"y":0.7044},{"p":"c","t":4,"x":550,"y":0.7048},{"p":"c","t":4,"x":580,"y":0.7066},{"p":"c","t":4,"x":610,"y":0.7083},{"p":"c","t":4,"x":660,"y":0.7089},{"p":"c","t":4,"x":880,"y":0.709},
    {"p":"c","t":5,"x":245,"y":0.7052},{"p":"c","t":5,"x":345,"y":0.7049},{"p":"c","t":5,"x":505,"y":0.7046},{"p":"c","t":5,"x":565,"y":0.7049},{"p":"c","t":5,"x":595,"y":0.7068},{"p":"c","t":5,"x":625,"y":0.7085},{"p":"c","t":5,"x":675,"y":0.7089},{"p":"c","t":5,"x":925,"y":0.7091},
    {"p":"c","t":6,"x":238,"y":0.7051},{"p":"c","t":6,"x":338,"y":0.7048},{"p":"c","t":6,"x":515,"y":0.7043},{"p":"c","t":6,"x":575,"y":0.7047},{"p":"c","t":6,"x":605,"y":0.7067},{"p":"c","t":6,"x":635,"y":0.7084},{"p":"c","t":6,"x":685,"y":0.709},{"p":"c","t":6,"x":840,"y":0.7092},
    {"p":"c","t":7,"x":262,"y":0.7054},{"p":"c","t":7,"x":362,"y":0.705},{"p":"c","t":7,"x":525,"y":0.7045},{"p":"c","t":7,"x":585,"y":0.7049},{"p":"c","t":7,"x":615,"y":0.7069},{"p":"c","t":7,"x":645,"y":0.7086},{"p":"c","t":7,"x":695,"y":0.709},{"p":"c","t":7,"x":900,"y":0.7091},
    {"p":"c","t":8,"x":250,"y":0.7048},{"p":"c","t":8,"x":350,"y":0.7047},{"p":"c","t":8,"x":535,"y":0.7042},{"p":"c","t":8,"x":595,"y":0.7046},{"p":"c","t":8,"x":625,"y":0.7066},{"p":"c","t":8,"x":655,"y":0.7083},{"p":"c","t":8,"x":705,"y":0.7089},{"p":"c","t":8,"x":925,"y":0.709},
    {"p":"c","t":9,"x":244,"y":0.705},{"p":"c","t":9,"x":344,"y":0.7049},{"p":"c","t":9,"x":545,"y":0.7046},{"p":"c","t":9,"x":605,"y":0.705},{"p":"c","t":9,"x":635,"y":0.7068},{"p":"c","t":9,"x":665,"y":0.7085},{"p":"c","t":9,"x":715,"y":0.709},{"p":"c","t":9,"x":870,"y":0.7093},
    {"p":"c","t":10,"x":256,"y":0.7053},{"p":"c","t":10,"x":356,"y":0.7051},{"p":"c","t":10,"x":555,"y":0.7044},{"p":"c","t":10,"x":615,"y":0.7048},{"p":"c","t":10,"x":645,"y":0.7067},{"p":"c","t":10,"x":675,"y":0.7084},{"p":"c","t":10,"x":725,"y":0.7089},{"p":"c","t":10,"x":925,"y":0.7091},
    {"p":"c","t":11,"x":235,"y":0.7049},{"p":"c","t":11,"x":335,"y":0.7046},{"p":"c","t":11,"x":565,"y":0.7043},{"p":"c","t":11,"x":625,"y":0.7047},{"p":"c","t":11,"x":655,"y":0.7066},{"p":"c","t":11,"x":685,"y":0.7083},{"p":"c","t":11,"x":735,"y":0.7088},{"p":"c","t":11,"x":900,"y":0.709},
    {"p":"c","t":12,"x":248,"y":0.7052},{"p":"c","t":12,"x":348,"y":0.705},{"p":"c","t":12,"x":575,"y":0.7045},{"p":"c","t":12,"x":635,"y":0.7049},{"p":"c","t":12,"x":665,"y":0.7068},{"p":"c","t":12,"x":695,"y":0.7085},{"p":"c","t":12,"x":745,"y":0.7089},{"p":"c","t":12,"x":925,"y":0.7091},
    {"p":"c","t":13,"x":260,"y":0.7051},{"p":"c","t":13,"x":360,"y":0.7048},{"p":"c","t":13,"x":585,"y":0.7047},{"p":"c","t":13,"x":645,"y":0.7051},{"p":"c","t":13,"x":675,"y":0.7069},{"p":"c","t":13,"x":705,"y":0.7086},{"p":"c","t":13,"x":755,"y":0.7091},{"p":"c","t":13,"x":860,"y":0.7094},
    {"p":"c","t":14,"x":242,"y":0.705},{"p":"c","t":14,"x":342,"y":0.7048},{"p":"c","t":14,"x":600,"y":0.7044},{"p":"c","t":14,"x":660,"y":0.7048},{"p":"c","t":14,"x":690,"y":0.7067},{"p":"c","t":14,"x":720,"y":0.7084},{"p":"c","t":14,"x":770,"y":0.7089},{"p":"c","t":14,"x":925,"y":0.7091},
    {"p":"c","t":15,"x":254,"y":0.7054},{"p":"c","t":15,"x":354,"y":0.7051},{"p":"c","t":15,"x":615,"y":0.7046},{"p":"c","t":15,"x":675,"y":0.705},{"p":"c","t":15,"x":705,"y":0.7068},{"p":"c","t":15,"x":735,"y":0.7085},{"p":"c","t":15,"x":785,"y":0.709},{"p":"c","t":15,"x":925,"y":0.7092},
    {"p":"c","t":16,"x":238,"y":0.7052},{"p":"c","t":16,"x":338,"y":0.7049},{"p":"c","t":16,"x":630,"y":0.7045},{"p":"c","t":16,"x":690,"y":0.7049},{"p":"c","t":16,"x":720,"y":0.7067},{"p":"c","t":16,"x":750,"y":0.7083},{"p":"c","t":16,"x":800,"y":0.7088},{"p":"c","t":16,"x":900,"y":0.709},
    {"p":"c","t":17,"x":250,"y":0.705},{"p":"c","t":17,"x":350,"y":0.7047},{"p":"c","t":17,"x":510,"y":0.7046},{"p":"c","t":17,"x":570,"y":0.705},{"p":"c","t":17,"x":600,"y":0.707},{"p":"c","t":17,"x":630,"y":0.7086},{"p":"c","t":17,"x":680,"y":0.709},{"p":"c","t":17,"x":780,"y":0.7091},
    {"p":"c","t":18,"x":246,"y":0.7053},{"p":"c","t":18,"x":346,"y":0.7051},{"p":"c","t":18,"x":560,"y":0.7041},{"p":"c","t":18,"x":620,"y":0.7046},{"p":"c","t":18,"x":650,"y":0.7066},{"p":"c","t":18,"x":680,"y":0.7084},{"p":"c","t":18,"x":730,"y":0.7089},{"p":"c","t":18,"x":925,"y":0.709},
    {"p":"c","t":19,"x":240,"y":0.7052},{"p":"c","t":19,"x":300,"y":0.705},{"p":"c","t":19,"x":345,"y":0.7057},{"p":"c","t":19,"x":380,"y":0.7049},{"p":"c","t":19,"x":460,"y":0.7046},{"p":"c","t":19,"x":540,"y":0.7048},{"p":"c","t":19,"x":600,"y":0.7052},{"p":"c","t":19,"x":640,"y":0.7069},{"p":"c","t":19,"x":670,"y":0.7086},{"p":"c","t":19,"x":720,"y":0.709},{"p":"c","t":19,"x":900,"y":0.7091},

    {"p":"d","t":1,"x":235,"y":0.7052},{"p":"d","t":1,"x":315,"y":0.7051},{"p":"d","t":1,"x":330,"y":0.7055},{"p":"d","t":1,"x":400,"y":0.7063},{"p":"d","t":1,"x":480,"y":0.7067},{"p":"d","t":1,"x":520,"y":0.7083},{"p":"d","t":1,"x":560,"y":0.7089},{"p":"d","t":1,"x":700,"y":0.7091},
    {"p":"d","t":2,"x":245,"y":0.705},{"p":"d","t":2,"x":325,"y":0.7049},{"p":"d","t":2,"x":340,"y":0.7053},{"p":"d","t":2,"x":420,"y":0.7062},{"p":"d","t":2,"x":500,"y":0.7068},{"p":"d","t":2,"x":540,"y":0.7084},{"p":"d","t":2,"x":580,"y":0.709},{"p":"d","t":2,"x":740,"y":0.7092},
    {"p":"d","t":3,"x":240,"y":0.7053},{"p":"d","t":3,"x":320,"y":0.7051},{"p":"d","t":3,"x":350,"y":0.7056},{"p":"d","t":3,"x":430,"y":0.7064},{"p":"d","t":3,"x":515,"y":0.7066},{"p":"d","t":3,"x":555,"y":0.7082},{"p":"d","t":3,"x":595,"y":0.7089},{"p":"d","t":3,"x":760,"y":0.709},
    {"p":"d","t":4,"x":255,"y":0.7051},{"p":"d","t":4,"x":335,"y":0.705},{"p":"d","t":4,"x":345,"y":0.7052},{"p":"d","t":4,"x":445,"y":0.7061},{"p":"d","t":4,"x":525,"y":0.7069},{"p":"d","t":4,"x":565,"y":0.7085},{"p":"d","t":4,"x":605,"y":0.709},{"p":"d","t":4,"x":720,"y":0.7091},
    {"p":"d","t":5,"x":238,"y":0.7049},{"p":"d","t":5,"x":318,"y":0.705},{"p":"d","t":5,"x":360,"y":0.7055},{"p":"d","t":5,"x":455,"y":0.7065},{"p":"d","t":5,"x":535,"y":0.7067},{"p":"d","t":5,"x":575,"y":0.7083},{"p":"d","t":5,"x":615,"y":0.7089},{"p":"d","t":5,"x":780,"y":0.7092},
    {"p":"d","t":6,"x":250,"y":0.7052},{"p":"d","t":6,"x":330,"y":0.705},{"p":"d","t":6,"x":365,"y":0.7054},{"p":"d","t":6,"x":465,"y":0.7062},{"p":"d","t":6,"x":545,"y":0.7068},{"p":"d","t":6,"x":585,"y":0.7084},{"p":"d","t":6,"x":625,"y":0.709},{"p":"d","t":6,"x":750,"y":0.709},
    {"p":"d","t":7,"x":242,"y":0.7054},{"p":"d","t":7,"x":322,"y":0.7052},{"p":"d","t":7,"x":370,"y":0.7057},{"p":"d","t":7,"x":470,"y":0.7064},{"p":"d","t":7,"x":555,"y":0.7066},{"p":"d","t":7,"x":595,"y":0.7082},{"p":"d","t":7,"x":635,"y":0.7089},{"p":"d","t":7,"x":800,"y":0.7091},
    {"p":"d","t":8,"x":260,"y":0.705},{"p":"d","t":8,"x":340,"y":0.7049},{"p":"d","t":8,"x":375,"y":0.7053},{"p":"d","t":8,"x":480,"y":0.706},{"p":"d","t":8,"x":565,"y":0.7069},{"p":"d","t":8,"x":605,"y":0.7085},{"p":"d","t":8,"x":645,"y":0.709},{"p":"d","t":8,"x":770,"y":0.7092},
    {"p":"d","t":9,"x":236,"y":0.7051},{"p":"d","t":9,"x":316,"y":0.7051},{"p":"d","t":9,"x":380,"y":0.7056},{"p":"d","t":9,"x":490,"y":0.7063},{"p":"d","t":9,"x":575,"y":0.7067},{"p":"d","t":9,"x":615,"y":0.7083},{"p":"d","t":9,"x":655,"y":0.7089},{"p":"d","t":9,"x":790,"y":0.7091},
    {"p":"d","t":10,"x":248,"y":0.7053},{"p":"d","t":10,"x":328,"y":0.705},{"p":"d","t":10,"x":385,"y":0.7054},{"p":"d","t":10,"x":500,"y":0.7065},{"p":"d","t":10,"x":585,"y":0.7068},{"p":"d","t":10,"x":625,"y":0.7084},{"p":"d","t":10,"x":665,"y":0.709},{"p":"d","t":10,"x":830,"y":0.709},
    {"p":"d","t":11,"x":252,"y":0.705},{"p":"d","t":11,"x":332,"y":0.7051},{"p":"d","t":11,"x":390,"y":0.7055},{"p":"d","t":11,"x":510,"y":0.7062},{"p":"d","t":11,"x":595,"y":0.7066},{"p":"d","t":11,"x":635,"y":0.7082},{"p":"d","t":11,"x":675,"y":0.7089},{"p":"d","t":11,"x":800,"y":0.7091},
    {"p":"d","t":12,"x":240,"y":0.7052},{"p":"d","t":12,"x":320,"y":0.7049},{"p":"d","t":12,"x":395,"y":0.7053},{"p":"d","t":12,"x":520,"y":0.7064},{"p":"d","t":12,"x":605,"y":0.7069},{"p":"d","t":12,"x":645,"y":0.7085},{"p":"d","t":12,"x":685,"y":0.709},{"p":"d","t":12,"x":760,"y":0.7092},
    {"p":"d","t":13,"x":258,"y":0.7051},{"p":"d","t":13,"x":338,"y":0.7052},{"p":"d","t":13,"x":400,"y":0.7057},{"p":"d","t":13,"x":530,"y":0.7063},{"p":"d","t":13,"x":615,"y":0.7067},{"p":"d","t":13,"x":655,"y":0.7083},{"p":"d","t":13,"x":695,"y":0.7089},{"p":"d","t":13,"x":810,"y":0.7091},
    {"p":"d","t":14,"x":244,"y":0.7049},{"p":"d","t":14,"x":324,"y":0.705},{"p":"d","t":14,"x":410,"y":0.7054},{"p":"d","t":14,"x":540,"y":0.7061},{"p":"d","t":14,"x":625,"y":0.7066},{"p":"d","t":14,"x":665,"y":0.7082},{"p":"d","t":14,"x":705,"y":0.7089},{"p":"d","t":14,"x":780,"y":0.709},
    {"p":"d","t":15,"x":250,"y":0.7052},{"p":"d","t":15,"x":330,"y":0.7051},{"p":"d","t":15,"x":420,"y":0.7056},{"p":"d","t":15,"x":550,"y":0.7064},{"p":"d","t":15,"x":640,"y":0.7068},{"p":"d","t":15,"x":680,"y":0.7084},{"p":"d","t":15,"x":720,"y":0.709},{"p":"d","t":15,"x":830,"y":0.7091},
    {"p":"d","t":16,"x":238,"y":0.705},{"p":"d","t":16,"x":318,"y":0.7049},{"p":"d","t":16,"x":430,"y":0.7053},{"p":"d","t":16,"x":560,"y":0.7062},{"p":"d","t":16,"x":655,"y":0.7067},{"p":"d","t":16,"x":695,"y":0.7083},{"p":"d","t":16,"x":735,"y":0.7089},{"p":"d","t":16,"x":800,"y":0.709},
    {"p":"d","t":17,"x":246,"y":0.7053},{"p":"d","t":17,"x":326,"y":0.7052},{"p":"d","t":17,"x":355,"y":0.7057},{"p":"d","t":17,"x":440,"y":0.7066},{"p":"d","t":17,"x":570,"y":0.7068},{"p":"d","t":17,"x":610,"y":0.7085},{"p":"d","t":17,"x":650,"y":0.7091},{"p":"d","t":17,"x":760,"y":0.7093},
    {"p":"d","t":18,"x":254,"y":0.7051},{"p":"d","t":18,"x":334,"y":0.705},{"p":"d","t":18,"x":375,"y":0.7055},{"p":"d","t":18,"x":500,"y":0.706},{"p":"d","t":18,"x":610,"y":0.7067},{"p":"d","t":18,"x":650,"y":0.7081},{"p":"d","t":18,"x":690,"y":0.7088},{"p":"d","t":18,"x":850,"y":0.7086},
    {"p":"d","t":19,"x":242,"y":0.705},{"p":"d","t":19,"x":322,"y":0.7052},{"p":"d","t":19,"x":335,"y":0.7056},{"p":"d","t":19,"x":410,"y":0.7067},{"p":"d","t":19,"x":540,"y":0.7069},{"p":"d","t":19,"x":580,"y":0.7085},{"p":"d","t":19,"x":620,"y":0.7091},{"p":"d","t":19,"x":740,"y":0.7092},
    {"p":"d","t":20,"x":248,"y":0.7052},{"p":"d","t":20,"x":328,"y":0.7051},{"p":"d","t":20,"x":400,"y":0.7058},{"p":"d","t":20,"x":470,"y":0.7066},{"p":"d","t":20,"x":590,"y":0.7067},{"p":"d","t":20,"x":630,"y":0.7084},{"p":"d","t":20,"x":670,"y":0.709},{"p":"d","t":20,"x":790,"y":0.7091}
  ],
  "lbox": [
    {"zone": "green", "x": 950, "x2": 1235.5, "y": 0.7052, "y2": 0.7062},
    {"zone": "bay", "x": 950, "x2": 1235.5, "y": 0.704, "y2": 0.705}
  ],
  "lboxtxt": [
    {"txt": "Non–Natal", "x": 1092.8, "y": 0.70584},
    {"txt": "Rearing Habitat", "x": 1092.8, "y": 0.70556},
    {"txt": "Natal Rearing Habitat", "x": 1092.8, "y": 0.70464},
    {"txt": "& Migratory Route", "x": 1092.8, "y": 0.70436}
  ],
  "legtxt": [
    {"txt": "Sr concentration", "x": 953.9, "y": 0.70914},
    {"txt": "95% C.I.", "x": 946.3, "y": 0.70717}
  ],
  "arrow": [{"x": 949, "x2": 1205, "y": 0.7088}],
  "arrowhead": [{"x": 1200, "y": 0.7088}],
  "legci": [{"x": 974.6, "lo": 0.7074, "hi": 0.70861}],
  "legc": [
    {"x": 974.6, "y": 0.708, "c": 0},
    {"x": 1031.8, "y": 0.708, "c": 0.12},
    {"x": 1088.2, "y": 0.708, "c": 0.29},
    {"x": 1144.7, "y": 0.708, "c": 0.47},
    {"x": 1200.4, "y": 0.708, "c": 1}
  ],
  "feather": [{"zone": "green", "x": 249.6, "x2": 850.1, "y": 0.7061, "y2": 0.70704}],
  "feathertxt": [
    {"txt": "Feather", "x": 828, "y": 0.7068},
    {"txt": "River", "x": 828, "y": 0.70639}
  ],
  "rkm": [{"y": 0.70918}, {"y": 0.70785}, {"y": 0.70605}, {"y": 0.70485}],
  "loc": [
    {"txt": "River km", "x": 941.7, "y": 0.70993},
    {"txt": "Location", "x": 1100.4, "y": 0.70993},
    {"txt": "Golden", "x": 1105.7, "y": 0.709375},
    {"txt": "Gate", "x": 1105.7, "y": 0.708986},
    {"txt": "Chipps", "x": 1105.7, "y": 0.70805},
    {"txt": "Island", "x": 1105.7, "y": 0.707656},
    {"txt": "Freeport", "x": 1105.7, "y": 0.706056},
    {"txt": "Redding", "x": 1105.7, "y": 0.704845}
  ],
  "bracket": [
    {"o": 1, "x": 1248.9, "y": 0.70612},
    {"o": 2, "x": 1329.4, "y": 0.70553},
    {"o": 3, "x": 1258.7, "y": 0.70484}
  ],
  "bigtxt": [
    {"txt": "Natal rearing", "x": 1631.8, "y": 0.70569},
    {"txt": "exit size", "x": 1644, "y": 0.70473}
  ]
},
"columns": 2,
"spacing": {"row": 102, "column": 46},
"bounds": "flush",
"concat": [
  {"width": 695, "height": 605, "title": "(a) Sacramento River",
   "layer": [
    {"data": {"name": "bands"}, "mark": {"type": "rect"},
     "encoding": {
      "x": {"datum": 172, "type": "quantitative", "scale": {"domain": [172, 928], "nice": false, "zero": false}, "axis": {"values": [200,300,400,500,600,700,800,900], "labels": false, "title": null}},
      "x2": {"datum": 928},
      "y": {"field": "y", "type": "quantitative", "scale": {"domain": [0.70378, 0.71014], "nice": false, "zero": false}, "axis": {"values": [0.704,0.705,0.706,0.707,0.708,0.709,0.71], "format": ".3f", "labelPadding": 12, "title": "⁸⁷Sr/⁸⁶Sr", "titleFontSize": 58, "titleY": 640, "titlePadding": 50}},
      "y2": {"field": "y2"},
      "color": {"field": "zone", "type": "nominal", "scale": {"domain": ["green","bay","delta","sac"], "range": ["#b7e2b1","#dbe5f0","#b3cbe3","#8cb3d7"]}, "legend": null}}},
    {"data": {"name": "dash"}, "mark": {"type": "rule", "color": "#707070", "strokeDash": [6,5], "strokeWidth": 2}, "encoding": {"y": {"field": "y", "type": "quantitative"}}},
    {"data": {"name": "bay0"}, "mark": {"type": "rule", "color": "#000", "strokeDash": [11,7], "strokeWidth": 3}, "encoding": {"y": {"field": "y", "type": "quantitative"}}},
    {"data": {"name": "labL"}, "mark": {"type": "text", "align": "left", "baseline": "middle", "fontSize": 30, "fontStyle": "italic", "color": "#4d4d4d"}, "encoding": {"x": {"field": "x", "type": "quantitative"}, "y": {"field": "y", "type": "quantitative"}, "text": {"field": "txt"}}},
    {"data": {"name": "labR"}, "mark": {"type": "text", "align": "right", "baseline": "middle", "fontSize": 30, "fontStyle": "italic", "color": "#4d4d4d"}, "encoding": {"x": {"field": "x", "type": "quantitative"}, "y": {"field": "y", "type": "quantitative"}, "text": {"field": "txt"}}},
    {"data": {"name": "traces"}, "transform": [{"filter": "datum.p === 'a'"}], "mark": {"type": "line", "color": "#1c2630", "opacity": 0.28, "strokeWidth": 1.6, "interpolate": "monotone"}, "encoding": {"x": {"field": "x", "type": "quantitative"}, "y": {"field": "y", "type": "quantitative"}, "detail": {"field": "t", "type": "nominal"}}},
    {"data": {"name": "red"}, "transform": [{"filter": "datum.p === 'a'"}], "mark": {"type": "rule", "color": "#d02a10", "strokeWidth": 5}, "encoding": {"x": {"field": "x", "type": "quantitative"}, "x2": {"field": "x2"}, "y": {"field": "y", "type": "quantitative"}}},
    {"data": {"name": "means"}, "transform": [{"filter": "datum.p === 'a'"}], "mark": {"type": "line", "color": "#000", "strokeWidth": 2}, "encoding": {"x": {"field": "x", "type": "quantitative"}, "y": {"field": "y", "type": "quantitative"}}},
    {"data": {"name": "means"}, "transform": [{"filter": "datum.p === 'a'"}], "mark": {"type": "rule", "color": "#000", "strokeWidth": 2.5}, "encoding": {"x": {"field": "x", "type": "quantitative"}, "y": {"field": "lo", "type": "quantitative"}, "y2": {"field": "hi"}}},
    {"data": {"name": "means"}, "transform": [{"filter": "datum.p === 'a'"}], "mark": {"type": "point", "filled": true, "size": 480, "stroke": "#000", "strokeWidth": 2, "opacity": 1}, "encoding": {"x": {"field": "x", "type": "quantitative"}, "y": {"field": "y", "type": "quantitative"}, "fill": {"field": "c", "type": "quantitative", "scale": {"domain": [0, 1], "range": ["#ffffff", "#000000"]}, "legend": null}}}
   ]},
  {"width": 695, "height": 605, "title": "(b) American River",
   "layer": [
    {"data": {"name": "bands"}, "mark": {"type": "rect"},
     "encoding": {
      "x": {"datum": 172, "type": "quantitative", "scale": {"domain": [172, 928], "nice": false, "zero": false}, "axis": {"values": [200,300,400,500,600,700,800,900], "labels": false, "title": null}},
      "x2": {"datum": 928},
      "y": {"field": "y", "type": "quantitative", "scale": {"domain": [0.70378, 0.71014], "nice": false, "zero": false}, "axis": {"values": [0.704,0.705,0.706,0.707,0.708,0.709,0.71], "labels": false, "title": null}},
      "y2": {"field": "y2"},
      "color": {"field": "zone", "type": "nominal", "scale": {"domain": ["green","bay","delta","sac"], "range": ["#b7e2b1","#dbe5f0","#b3cbe3","#8cb3d7"]}, "legend": null}}},
    {"data": {"name": "dash"}, "mark": {"type": "rule", "color": "#707070", "strokeDash": [6,5], "strokeWidth": 2}, "encoding": {"y": {"field": "y", "type": "quantitative"}}},
    {"data": {"name": "bay0"}, "mark": {"type": "rule", "color": "#000", "strokeDash": [11,7], "strokeWidth": 3}, "encoding": {"y": {"field": "y", "type": "quantitative"}}},
    {"data": {"name": "labL"}, "mark": {"type": "text", "align": "left", "baseline": "middle", "fontSize": 30, "fontStyle": "italic", "color": "#4d4d4d"}, "encoding": {"x": {"field": "x", "type": "quantitative"}, "y": {"field": "y", "type": "quantitative"}, "text": {"field": "txt"}}},
    {"data": {"name": "labR"}, "mark": {"type": "text", "align": "right", "baseline": "middle", "fontSize": 30, "fontStyle": "italic", "color": "#4d4d4d"}, "encoding": {"x": {"field": "x", "type": "quantitative"}, "y": {"field": "y", "type": "quantitative"}, "text": {"field": "txt"}}},
    {"data": {"name": "traces"}, "transform": [{"filter": "datum.p === 'b'"}], "mark": {"type": "line", "color": "#1c2630", "opacity": 0.28, "strokeWidth": 1.6, "interpolate": "monotone"}, "encoding": {"x": {"field": "x", "type": "quantitative"}, "y": {"field": "y", "type": "quantitative"}, "detail": {"field": "t", "type": "nominal"}}},
    {"data": {"name": "red"}, "transform": [{"filter": "datum.p === 'b'"}], "mark": {"type": "rule", "color": "#d02a10", "strokeWidth": 5}, "encoding": {"x": {"field": "x", "type": "quantitative"}, "x2": {"field": "x2"}, "y": {"field": "y", "type": "quantitative"}}},
    {"data": {"name": "means"}, "transform": [{"filter": "datum.p === 'b'"}], "mark": {"type": "line", "color": "#000", "strokeWidth": 2}, "encoding": {"x": {"field": "x", "type": "quantitative"}, "y": {"field": "y", "type": "quantitative"}}},
    {"data": {"name": "means"}, "transform": [{"filter": "datum.p === 'b'"}], "mark": {"type": "rule", "color": "#000", "strokeWidth": 2.5}, "encoding": {"x": {"field": "x", "type": "quantitative"}, "y": {"field": "lo", "type": "quantitative"}, "y2": {"field": "hi"}}},
    {"data": {"name": "means"}, "transform": [{"filter": "datum.p === 'b'"}], "mark": {"type": "point", "filled": true, "size": 480, "stroke": "#000", "strokeWidth": 2, "opacity": 1}, "encoding": {"x": {"field": "x", "type": "quantitative"}, "y": {"field": "y", "type": "quantitative"}, "fill": {"field": "c", "type": "quantitative", "scale": {"domain": [0, 1], "range": ["#ffffff", "#000000"]}, "legend": null}}},
    {"data": {"name": "lbox"}, "mark": {"type": "rect"}, "encoding": {"x": {"field": "x", "type": "quantitative"}, "x2": {"field": "x2"}, "y": {"field": "y", "type": "quantitative"}, "y2": {"field": "y2"}, "color": {"field": "zone", "type": "nominal", "legend": null}}},
    {"data": {"name": "lbox"}, "transform": [{"filter": "datum.zone === 'green'"}], "mark": {"type": "rect", "fill": "transparent", "stroke": "#666", "strokeWidth": 2, "strokeDash": [7,5]}, "encoding": {"x": {"field": "x", "type": "quantitative"}, "x2": {"field": "x2"}, "y": {"field": "y", "type": "quantitative"}, "y2": {"field": "y2"}}},
    {"data": {"name": "lboxtxt"}, "mark": {"type": "text", "align": "center", "baseline": "middle", "fontSize": 22, "fontStyle": "italic", "color": "#4d4d4d"}, "encoding": {"x": {"field": "x", "type": "quantitative"}, "y": {"field": "y", "type": "quantitative"}, "text": {"field": "txt"}}},
    {"data": {"name": "legtxt"}, "mark": {"type": "text", "align": "left", "baseline": "middle", "fontSize": 30, "color": "#000"}, "encoding": {"x": {"field": "x", "type": "quantitative"}, "y": {"field": "y", "type": "quantitative"}, "text": {"field": "txt"}}},
    {"data": {"name": "arrow"}, "mark": {"type": "rule", "color": "#000", "strokeWidth": 3}, "encoding": {"x": {"field": "x", "type": "quantitative"}, "x2": {"field": "x2"}, "y": {"field": "y", "type": "quantitative"}}},
    {"data": {"name": "arrowhead"}, "mark": {"type": "point", "shape": "M-1,-0.55L1,0L-1,0.55L-0.55,0Z", "size": 1849, "filled": true, "color": "#000", "opacity": 1}, "encoding": {"x": {"field": "x", "type": "quantitative"}, "y": {"field": "y", "type": "quantitative"}}},
    {"data": {"name": "legci"}, "mark": {"type": "rule", "color": "#000", "strokeWidth": 2.5}, "encoding": {"x": {"field": "x", "type": "quantitative"}, "y": {"field": "lo", "type": "quantitative"}, "y2": {"field": "hi"}}},
    {"data": {"name": "legc"}, "mark": {"type": "point", "filled": true, "size": 1300, "stroke": "#000", "strokeWidth": 2, "opacity": 1}, "encoding": {"x": {"field": "x", "type": "quantitative"}, "y": {"field": "y", "type": "quantitative"}, "fill": {"field": "c", "type": "quantitative", "scale": {"domain": [0, 1], "range": ["#ffffff", "#000000"]}, "legend": null}}}
   ]},
  {"width": 695, "height": 605, "title": "(c) Northern Tributaries",
   "layer": [
    {"data": {"name": "bands"}, "mark": {"type": "rect"},
     "encoding": {
      "x": {"datum": 172, "type": "quantitative", "scale": {"domain": [172, 928], "nice": false, "zero": false}, "axis": {"values": [200,300,400,500,600,700,800,900], "labelPadding": 14, "title": "Distance from otolith core (μm)", "titleX": 740, "titleFontSize": 55, "titlePadding": 24}},
      "x2": {"datum": 928},
      "y": {"field": "y", "type": "quantitative", "scale": {"domain": [0.70378, 0.71014], "nice": false, "zero": false}, "axis": {"values": [0.704,0.705,0.706,0.707,0.708,0.709,0.71], "format": ".3f", "labelPadding": 12, "title": null}},
      "y2": {"field": "y2"},
      "color": {"field": "zone", "type": "nominal", "scale": {"domain": ["green","bay","delta","sac"], "range": ["#b7e2b1","#dbe5f0","#b3cbe3","#8cb3d7"]}, "legend": null}}},
    {"data": {"name": "dash"}, "mark": {"type": "rule", "color": "#707070", "strokeDash": [6,5], "strokeWidth": 2}, "encoding": {"y": {"field": "y", "type": "quantitative"}}},
    {"data": {"name": "bay0"}, "mark": {"type": "rule", "color": "#000", "strokeDash": [11,7], "strokeWidth": 3}, "encoding": {"y": {"field": "y", "type": "quantitative"}}},
    {"data": {"name": "labL"}, "mark": {"type": "text", "align": "left", "baseline": "middle", "fontSize": 30, "fontStyle": "italic", "color": "#4d4d4d"}, "encoding": {"x": {"field": "x", "type": "quantitative"}, "y": {"field": "y", "type": "quantitative"}, "text": {"field": "txt"}}},
    {"data": {"name": "labR"}, "mark": {"type": "text", "align": "right", "baseline": "middle", "fontSize": 30, "fontStyle": "italic", "color": "#4d4d4d"}, "encoding": {"x": {"field": "x", "type": "quantitative"}, "y": {"field": "y", "type": "quantitative"}, "text": {"field": "txt"}}},
    {"data": {"name": "traces"}, "transform": [{"filter": "datum.p === 'c'"}], "mark": {"type": "line", "color": "#1c2630", "opacity": 0.28, "strokeWidth": 1.6, "interpolate": "monotone"}, "encoding": {"x": {"field": "x", "type": "quantitative"}, "y": {"field": "y", "type": "quantitative"}, "detail": {"field": "t", "type": "nominal"}}},
    {"data": {"name": "red"}, "transform": [{"filter": "datum.p === 'c'"}], "mark": {"type": "rule", "color": "#d02a10", "strokeWidth": 5}, "encoding": {"x": {"field": "x", "type": "quantitative"}, "x2": {"field": "x2"}, "y": {"field": "y", "type": "quantitative"}}},
    {"data": {"name": "means"}, "transform": [{"filter": "datum.p === 'c'"}], "mark": {"type": "line", "color": "#000", "strokeWidth": 2}, "encoding": {"x": {"field": "x", "type": "quantitative"}, "y": {"field": "y", "type": "quantitative"}}},
    {"data": {"name": "means"}, "transform": [{"filter": "datum.p === 'c'"}], "mark": {"type": "rule", "color": "#000", "strokeWidth": 2.5}, "encoding": {"x": {"field": "x", "type": "quantitative"}, "y": {"field": "lo", "type": "quantitative"}, "y2": {"field": "hi"}}},
    {"data": {"name": "means"}, "transform": [{"filter": "datum.p === 'c'"}], "mark": {"type": "point", "filled": true, "size": 480, "stroke": "#000", "strokeWidth": 2, "opacity": 1}, "encoding": {"x": {"field": "x", "type": "quantitative"}, "y": {"field": "y", "type": "quantitative"}, "fill": {"field": "c", "type": "quantitative", "scale": {"domain": [0, 1], "range": ["#ffffff", "#000000"]}, "legend": null}}}
   ]},
  {"width": 695, "height": 605, "title": "(d) Delta or Feather River",
   "resolve": {"axis": {"y": "independent"}},
   "layer": [
    {"layer": [
     {"data": {"name": "bands"}, "mark": {"type": "rect"},
      "encoding": {
       "x": {"datum": 172, "type": "quantitative", "scale": {"domain": [172, 928], "nice": false, "zero": false}, "axis": {"values": [200,300,400,500,600,700,800,900], "labelPadding": 14, "title": null}},
       "x2": {"datum": 928},
       "y": {"field": "y", "type": "quantitative", "scale": {"domain": [0.70378, 0.71014], "nice": false, "zero": false}, "axis": {"values": [0.704,0.705,0.706,0.707,0.708,0.709,0.71], "labels": false, "title": null}},
       "y2": {"field": "y2"},
       "color": {"field": "zone", "type": "nominal", "scale": {"domain": ["green","bay","delta","sac"], "range": ["#b7e2b1","#dbe5f0","#b3cbe3","#8cb3d7"]}, "legend": null}}},
     {"data": {"name": "dash"}, "mark": {"type": "rule", "color": "#707070", "strokeDash": [6,5], "strokeWidth": 2}, "encoding": {"y": {"field": "y", "type": "quantitative"}}},
     {"data": {"name": "bay0"}, "mark": {"type": "rule", "color": "#000", "strokeDash": [11,7], "strokeWidth": 3}, "encoding": {"y": {"field": "y", "type": "quantitative"}}},
     {"data": {"name": "labL"}, "mark": {"type": "text", "align": "left", "baseline": "middle", "fontSize": 30, "fontStyle": "italic", "color": "#4d4d4d"}, "encoding": {"x": {"field": "x", "type": "quantitative"}, "y": {"field": "y", "type": "quantitative"}, "text": {"field": "txt"}}},
     {"data": {"name": "labR"}, "mark": {"type": "text", "align": "right", "baseline": "middle", "fontSize": 30, "fontStyle": "italic", "color": "#4d4d4d"}, "encoding": {"x": {"field": "x", "type": "quantitative"}, "y": {"field": "y", "type": "quantitative"}, "text": {"field": "txt"}}},
     {"data": {"name": "feather"}, "mark": {"type": "rect", "stroke": "#666", "strokeWidth": 2, "strokeDash": [7,5]}, "encoding": {"x": {"field": "x", "type": "quantitative"}, "x2": {"field": "x2"}, "y": {"field": "y", "type": "quantitative"}, "y2": {"field": "y2"}, "color": {"field": "zone", "type": "nominal", "legend": null}}},
     {"data": {"name": "feathertxt"}, "mark": {"type": "text", "align": "right", "baseline": "middle", "fontSize": 30, "fontStyle": "italic", "color": "#4d4d4d"}, "encoding": {"x": {"field": "x", "type": "quantitative"}, "y": {"field": "y", "type": "quantitative"}, "text": {"field": "txt"}}},
     {"data": {"name": "traces"}, "transform": [{"filter": "datum.p === 'd'"}], "mark": {"type": "line", "color": "#1c2630", "opacity": 0.28, "strokeWidth": 1.6, "interpolate": "monotone"}, "encoding": {"x": {"field": "x", "type": "quantitative"}, "y": {"field": "y", "type": "quantitative"}, "detail": {"field": "t", "type": "nominal"}}},
     {"data": {"name": "red"}, "transform": [{"filter": "datum.p === 'd'"}], "mark": {"type": "rule", "color": "#d02a10", "strokeWidth": 5}, "encoding": {"x": {"field": "x", "type": "quantitative"}, "x2": {"field": "x2"}, "y": {"field": "y", "type": "quantitative"}}},
     {"data": {"name": "means"}, "transform": [{"filter": "datum.p === 'd'"}], "mark": {"type": "line", "color": "#000", "strokeWidth": 2}, "encoding": {"x": {"field": "x", "type": "quantitative"}, "y": {"field": "y", "type": "quantitative"}}},
     {"data": {"name": "means"}, "transform": [{"filter": "datum.p === 'd'"}], "mark": {"type": "rule", "color": "#000", "strokeWidth": 2.5}, "encoding": {"x": {"field": "x", "type": "quantitative"}, "y": {"field": "lo", "type": "quantitative"}, "y2": {"field": "hi"}}},
     {"data": {"name": "means"}, "transform": [{"filter": "datum.p === 'd'"}], "mark": {"type": "point", "filled": true, "size": 480, "stroke": "#000", "strokeWidth": 2, "opacity": 1}, "encoding": {"x": {"field": "x", "type": "quantitative"}, "y": {"field": "y", "type": "quantitative"}, "fill": {"field": "c", "type": "quantitative", "scale": {"domain": [0, 1], "range": ["#ffffff", "#000000"]}, "legend": null}}},
     {"data": {"name": "loc"}, "mark": {"type": "text", "align": "left", "baseline": "middle", "fontSize": 30, "color": "#000"}, "encoding": {"x": {"field": "x", "type": "quantitative"}, "y": {"field": "y", "type": "quantitative"}, "text": {"field": "txt"}}},
     {"data": {"name": "bracket"}, "mark": {"type": "line", "color": "#d02a10", "strokeWidth": 4}, "encoding": {"x": {"field": "x", "type": "quantitative"}, "y": {"field": "y", "type": "quantitative"}, "order": {"field": "o", "type": "quantitative"}}},
     {"data": {"name": "bigtxt"}, "mark": {"type": "text", "align": "center", "baseline": "alphabetic", "fontSize": 95, "color": "#d02a10"}, "encoding": {"x": {"field": "x", "type": "quantitative"}, "y": {"field": "y", "type": "quantitative"}, "text": {"field": "txt"}}}
    ]},
    {"data": {"name": "rkm"}, "mark": {"type": "point", "opacity": 0},
     "encoding": {"x": {"datum": 928, "type": "quantitative"},
      "y": {"field": "y", "type": "quantitative", "axis": {"orient": "right", "values": [0.70918, 0.70785, 0.70605, 0.70485], "labelExpr": "datum.value > 0.709 ? '0' : datum.value > 0.707 ? '73' : datum.value > 0.7059 ? '175' : '567'", "tickSize": 17, "labelPadding": 8, "labelFontSize": 34, "title": null}}}}
   ]}
]
}
